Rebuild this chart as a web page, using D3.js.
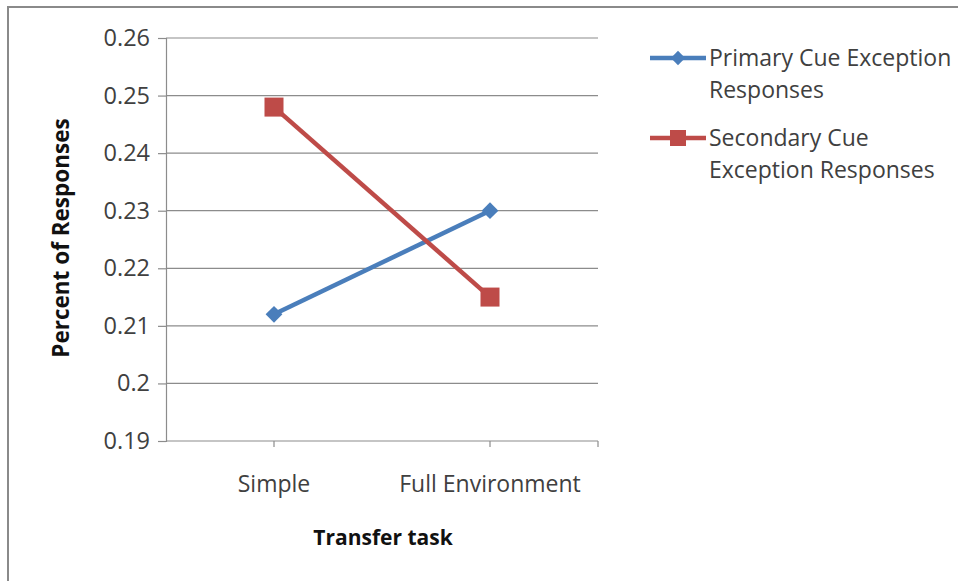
<!DOCTYPE html>
<html>
<head>
<meta charset="utf-8">
<script src="https://cdn.jsdelivr.net/npm/d3@7"></script>
<style>
  html, body { margin: 0; padding: 0; background: #fff; }
  svg { display: block; }
  text { font-family: "Open Sans", "Liberation Sans", sans-serif; }
</style>
</head>
<body>
<svg id="chart" width="958" height="581"></svg>
<script>
// Transfer task categories and the two response series
const categories = ["Simple", "Full Environment"];
const primaryCue = [0.212, 0.230];
const secondaryCue = [0.248, 0.215];
const yTicks = [0.19, 0.2, 0.21, 0.22, 0.23, 0.24, 0.25, 0.26];
const seriesNames = [
  ["Primary Cue Exception", "Responses"],
  ["Secondary Cue", "Exception Responses"]
];

const svg = d3.select("#chart");
const W = 958, H = 581;

// outer frame (top and left edges visible)
svg.append("rect").attr("x", 8).attr("y", 7).attr("width", W).attr("height", H)
  .attr("fill", "#fff").attr("stroke", "#8a8a8a").attr("stroke-width", 2);

const plot = { left: 166, right: 598, top: 38, bottom: 441 };

const x = d3.scaleBand().domain(categories).range([plot.left, plot.right]).padding(0);
const xc = c => x(c) + x.bandwidth() / 2;
const y = d3.scaleLinear().domain([0.19, 0.26]).range([plot.bottom, plot.top]);

// horizontal gridlines
svg.append("g").selectAll("line").data(yTicks.slice(1)).join("line")
  .attr("x1", plot.left).attr("x2", plot.right)
  .attr("y1", d => y(d)).attr("y2", d => y(d))
  .attr("stroke", "#8c8c8c").attr("stroke-width", 1.2);

// y axis
const yAxis = d3.axisLeft(y).tickValues(yTicks).tickSize(8).tickPadding(8)
  .tickFormat(d => String(+d.toFixed(2)));
const gy = svg.append("g").attr("transform", `translate(${plot.left},0)`).call(yAxis);
gy.select(".domain").attr("stroke", "#8c8c8c").attr("stroke-width", 1.2);
gy.selectAll(".tick line").attr("stroke", "#8c8c8c").attr("stroke-width", 1.2);
gy.selectAll(".tick text").attr("fill", "#404040").attr("font-size", 23.5)
  .attr("font-family", "'Open Sans', sans-serif");

// x axis
const xAxis = d3.axisBottom(x).tickSize(0).tickPadding(35);
const gx = svg.append("g").attr("transform", `translate(0,${plot.bottom})`).call(xAxis);
gx.select(".domain").attr("d", `M${plot.left},0H${plot.right}`)
  .attr("stroke", "#8c8c8c").attr("stroke-width", 1.2);
gx.selectAll(".tick text").attr("fill", "#404040").attr("font-size", 23)
  .attr("font-family", "'Open Sans', sans-serif");
// small tick marks at the category centres and at the axis end
const xTickPos = categories.map(xc).concat([plot.right]);
gx.append("g").selectAll("line").data(xTickPos).join("line")
  .attr("x1", d => d).attr("x2", d => d).attr("y1", 0).attr("y2", 6)
  .attr("stroke", "#8c8c8c").attr("stroke-width", 1.2);

// axis titles
svg.append("text").attr("x", 383).attr("y", 545)
  .attr("text-anchor", "middle").attr("font-size", 21).attr("font-weight", "bold")
  .attr("fill", "#111").text("Transfer task");
svg.append("text").attr("transform", `translate(69,238) rotate(-90)`)
  .attr("text-anchor", "middle").attr("font-size", 22.5).attr("font-weight", "bold")
  .attr("fill", "#111").text("Percent of Responses");

const blue = "#4a7ebb", red = "#be4b48";
const line = d3.line().x((d, i) => xc(categories[i])).y(d => y(d));

// primary series: line with diamond markers
svg.append("path").datum(primaryCue).attr("d", line)
  .attr("fill", "none").attr("stroke", blue).attr("stroke-width", 4.5);
const diamond = d3.symbol().type(d3.symbolDiamond2).size(180);
svg.append("g").selectAll("path").data(primaryCue).join("path")
  .attr("transform", (d, i) => `translate(${xc(categories[i])},${y(d)})`)
  .attr("d", diamond).attr("fill", blue);

// secondary series: line with square markers
svg.append("path").datum(secondaryCue).attr("d", line)
  .attr("fill", "none").attr("stroke", red).attr("stroke-width", 4.5);
const sq = 19;
svg.append("g").selectAll("rect").data(secondaryCue).join("rect")
  .attr("x", (d, i) => xc(categories[i]) - sq / 2).attr("y", d => y(d) - sq / 2)
  .attr("width", sq).attr("height", sq).attr("fill", red);

// legend
const legend = [
  { color: blue, marker: "diamond", y: 58 },
  { color: red, marker: "square", y: 138 }
];
legend.forEach((l, i) => {
  const g = svg.append("g");
  g.append("line").attr("x1", 650).attr("x2", 706).attr("y1", l.y).attr("y2", l.y)
    .attr("stroke", l.color).attr("stroke-width", 4.5);
  if (l.marker === "diamond") {
    g.append("path").attr("transform", `translate(678,${l.y})`)
      .attr("d", d3.symbol().type(d3.symbolDiamond2).size(130)).attr("fill", l.color);
  } else {
    g.append("rect").attr("x", 678 - 8).attr("y", l.y - 8).attr("width", 16).attr("height", 16)
      .attr("fill", l.color);
  }
  const t = g.append("text").attr("x", 709).attr("y", l.y + 8)
    .attr("font-size", 23).attr("fill", "#404040");
  seriesNames[i].forEach((s, k) => {
    t.append("tspan").attr("x", 709).attr("dy", k === 0 ? 0 : 32).text(s);
  });
});
</script>
</body>
</html>
